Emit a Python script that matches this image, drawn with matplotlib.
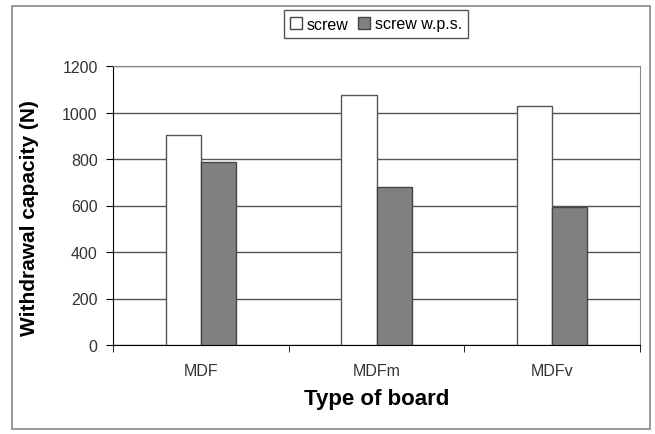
import numpy as np
import matplotlib.pyplot as plt
from matplotlib.patches import Rectangle, Patch

# Dados
boards = ['MDF', 'MDFm', 'MDFv']
screw = [905, 1075, 1030]
screw_wps = [785, 680, 595]
yticks = [0, 200, 400, 600, 800, 1000, 1200]

plt.rcParams['font.family'] = ['Liberation Sans', 'DejaVu Sans']

fig = plt.figure(figsize=(6.55, 4.35), dpi=100)
ax = fig.add_axes([113 / 655, 89 / 435, 527 / 655, 279 / 435])

x = np.arange(len(boards))
w = 0.2

# grade horizontal atras das barras
ax.set_axisbelow(True)
ax.yaxis.grid(True, color='#555555', linewidth=1.0)

ax.bar(x - w / 2, screw, w, color='white', edgecolor='#555555', linewidth=1.0, zorder=3)
ax.bar(x + w / 2, screw_wps, w, color='#808080', edgecolor='#444444', linewidth=1.0, zorder=3)

ax.set_xlim(-0.5, len(boards) - 0.5)
ax.set_ylim(0, 1200)
ax.set_yticks(yticks)
ax.set_xticks(x)
ax.set_xticklabels(boards)
ax.set_xticks(np.arange(-0.5, len(boards), 1.0), minor=True)
ax.tick_params(axis='x', which='major', length=0, pad=13, labelsize=11.5, labelcolor='#333333')
ax.tick_params(axis='x', which='minor', length=5, direction='out', color='black')
ax.tick_params(axis='y', length=5, direction='out', labelsize=11.5, labelcolor='#333333', pad=6)

for s in ['left', 'bottom']:
    ax.spines[s].set_color('black')
for s in ['top', 'right']:
    ax.spines[s].set_color('#888888')

ax.set_ylabel('Withdrawal capacity (N)', fontsize=15, fontweight='bold')
ax.yaxis.set_label_coords(-0.140, 0.46)
ax.set_xlabel('Type of board', fontsize=16, fontweight='bold', labelpad=7)

handles = [Patch(facecolor='white', edgecolor='#444444', linewidth=1.0),
           Patch(facecolor='#808080', edgecolor='#444444', linewidth=1.0)]
leg = fig.legend(handles, ['screw', 'screw w.p.s.'], ncol=2, loc='center',
                 bbox_to_anchor=(376 / 655, 410 / 435), fontsize=11.5,
                 handlelength=0.75, handleheight=0.75, handletextpad=0.3,
                 columnspacing=0.6, fancybox=False, framealpha=1,
                 edgecolor='#555555', borderpad=0.4)
leg.get_frame().set_linewidth(1.0)

# moldura externa
fig.patches.append(Rectangle((12 / 655, 5 / 435), 638 / 655, 423 / 435,
                             transform=fig.transFigure, fill=False,
                             edgecolor='#888888', linewidth=1.2))

fig.savefig('out.png', dpi=100)
